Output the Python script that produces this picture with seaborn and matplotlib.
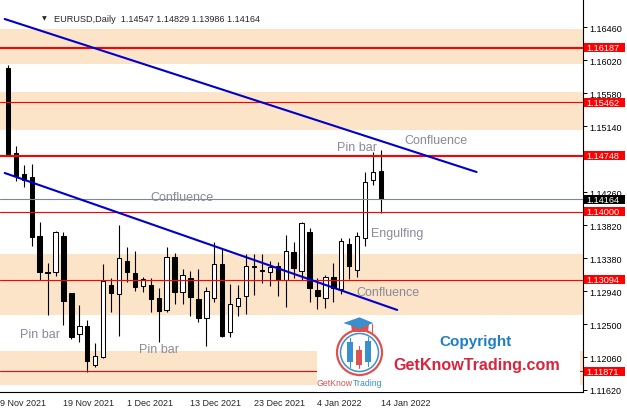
import numpy as np
import pandas as pd
import matplotlib
matplotlib.use('Agg')
import matplotlib.pyplot as plt
import matplotlib.transforms as mtransforms
from matplotlib.patches import Rectangle, Circle, Polygon
import seaborn as sns

# EURUSD daily candles, 10 Nov 2021 .. 14 Jan 2022
opens = [1.15913, 1.14779, 1.14503, 1.14459, 1.13672, 1.13200, 1.13192, 1.13672,
         1.12912, 1.12369, 1.12471, 1.11959, 1.12058, 1.13022, 1.12898, 1.13342,
         1.13182, 1.13005, 1.13022, 1.12849, 1.12689, 1.13392, 1.12925, 1.13112,
         1.12835, 1.12578, 1.12853, 1.13298, 1.12391, 1.12746, 1.12872, 1.13262,
         1.13222, 1.13192, 1.13272, 1.13089, 1.13458, 1.13205, 1.13725, 1.12956,
         1.12845, 1.13125, 1.12969, 1.13565, 1.13226, 1.13645, 1.14423, 1.14547]
highs = [1.15957, 1.14872, 1.14623, 1.14636, 1.13859, 1.13316, 1.13743, 1.13725,
         1.12920, 1.12755, 1.12555, 1.12245, 1.13302, 1.13112, 1.13823, 1.13533,
         1.13472, 1.13125, 1.13112, 1.12978, 1.13533, 1.13449, 1.13236, 1.13213,
         1.13236, 1.12992, 1.13592, 1.13512, 1.13036, 1.13022, 1.13436, 1.13436,
         1.13436, 1.13338, 1.13333, 1.13689, 1.13592, 1.13867, 1.13779, 1.13112,
         1.13156, 1.13312, 1.13649, 1.13649, 1.13733, 1.14534, 1.14792, 1.14829]
lows = [1.14740, 1.14413, 1.14326, 1.13547, 1.13093, 1.12622, 1.13136, 1.12493,
        1.12302, 1.12258, 1.11858, 1.11932, 1.12049, 1.12658, 1.12346, 1.13066,
        1.12946, 1.12925, 1.12658, 1.12266, 1.12658, 1.12769, 1.12769, 1.12613,
        1.12533, 1.12213, 1.12800, 1.12333, 1.12333, 1.12605, 1.12635, 1.12889,
        1.13049, 1.13013, 1.12880, 1.12733, 1.13112, 1.13093, 1.12791, 1.12702,
        1.12711, 1.12791, 1.12902, 1.13102, 1.13125, 1.13539, 1.14356, 1.13986]
closes = [1.14747, 1.14480, 1.14423, 1.13659, 1.13192, 1.13182, 1.13725, 1.12813,
          1.12333, 1.12479, 1.12004, 1.12079, 1.13080, 1.12912, 1.13378, 1.13192,
          1.13000, 1.13102, 1.12835, 1.12679, 1.13400, 1.12925, 1.13160, 1.12858,
          1.12578, 1.12938, 1.13298, 1.12346, 1.12765, 1.12845, 1.13272, 1.13270,
          1.13205, 1.13258, 1.13089, 1.13472, 1.13245, 1.13845, 1.12978, 1.12872,
          1.13125, 1.12978, 1.13605, 1.13272, 1.13680, 1.14400, 1.14534, 1.14164]

date_ticks = [-1, 7, 15, 23, 31, 39, 47]
date_labels = ['9 Nov 2021', '19 Nov 2021', '1 Dec 2021', '13 Dec 2021',
               '23 Dec 2021', '4 Jan 2022', '14 Jan 2022']
price_ticks = [1.1162, 1.1206, 1.1250, 1.1294, 1.1338, 1.1382,
               1.1426, 1.1470, 1.1514, 1.1558, 1.1602, 1.1646]

# zones (low, high) and levels
zones = [(1.15970, 1.16437), (1.15094, 1.15601), (1.12625, 1.13435), (1.11682, 1.12145)]
thick_levels = [1.16187, 1.14748]
thin_levels = [1.15462, 1.14000, 1.13094, 1.11871]
last_price = 1.14164

# trend lines: (bar index, price) end points
upper_trend_x = [-0.41, 59.05]
upper_trend_y = [1.16571, 1.14529]
lower_trend_x = [-0.41, 49.05]
lower_trend_y = [1.14516, 1.12688]

# chart notes: (text, bar index, price)
notes = [('Confluence', 21.96, 1.14195), ('Pin bar', 44.03, 1.14863),
         ('Confluence', 53.9, 1.14960), ('Engulfing', 49.03, 1.13715),
         ('Confluence', 47.9, 1.12928), ('Pin bar', 4.09, 1.12367),
         ('Pin bar', 19.03, 1.12167)]

sns.set_style('white')
plt.rcParams['font.family'] = ['Liberation Sans', 'DejaVu Sans']

W, H = 627, 410
fig = plt.figure(figsize=(W / 100, H / 100), dpi=100)
ax = fig.add_axes([0, 1 - 393.3 / H, 583 / W, 393.3 / H])
ax.set_xlim(-0.41, 72.46)
ax.set_ylim(1.11589, 1.16838)

idx = np.arange(len(opens))
o = np.array(opens); c = np.array(closes)

# zones behind everything
for lo, hi in zones:
    ax.axhspan(lo, hi, color='#FCE4C8', lw=0, zorder=0.5)

# candles
ax.vlines(idx, lows, highs, color='black', lw=0.8, zorder=1)
body_lo = np.minimum(o, c)
body_h = np.maximum(np.abs(c - o), 0.00002)
face = ['white' if cl >= op else 'black' for op, cl in zip(o, c)]
ax.bar(idx, body_h, bottom=body_lo, width=0.55, color=face,
       edgecolor='black', lw=0.75, zorder=2)

# levels
for lv in thick_levels:
    ax.axhline(lv, color='#FF0000', lw=1.5, zorder=3)
for lv in thin_levels:
    ax.axhline(lv, color='#FF0000', lw=0.8, zorder=3)
ax.axhline(last_price, color='#7F8890', lw=0.8, zorder=3)

# trend lines
sns.lineplot(x=upper_trend_x, y=upper_trend_y, ax=ax, color='#0000CD', lw=1.5, zorder=3.2)
sns.lineplot(x=lower_trend_x, y=lower_trend_y, ax=ax, color='#0000CD', lw=1.5, zorder=3.2)

for txt, xi, yp in notes:
    ax.text(xi, yp, txt, color='#8A8A98', fontsize=9, ha='center', va='center', zorder=4)

# axes styling
for s in ['top', 'left']:
    ax.spines[s].set_visible(False)
for s in ['right', 'bottom']:
    ax.spines[s].set_color('black')
    ax.spines[s].set_linewidth(0.8)
ax.yaxis.tick_right()
ax.set_yticks(price_ticks)
# 1.14700 sits under the 1.14748 tag, so its label is hidden
ax.set_yticklabels(['' if abs(p - 1.147) < 1e-6 else f'{p:.5f}' for p in price_ticks])
ax.set_xticks(date_ticks)
ax.set_xticklabels([''] * len(date_ticks))
ax.tick_params(axis='both', direction='out', length=3, width=0.7, colors='black',
               labelsize=6.5, pad=1.5)
ax.set_xlabel('')
ax.set_ylabel('')

# date labels start at their tick, MT4 style (first one runs off the left edge)
xblend = mtransforms.blended_transform_factory(ax.transData, ax.transAxes)
for t, lab in zip(date_ticks, date_labels):
    ax.text(t, -10.5 / 393.3, lab, transform=xblend, fontsize=6.5, ha='left',
            va='center', clip_on=False)

# price tags on the right axis
blend = mtransforms.blended_transform_factory(ax.transAxes, ax.transData)
def price_tag(price, fc):
    half = 4.6 / 7494
    ax.add_patch(Rectangle((584 / 583, price - half), 41 / 583, 2 * half,
                           transform=blend, fc=fc, ec='none', clip_on=False, zorder=6))
    ax.text(586.5 / 583, price, f'{price:.5f}', transform=blend, color='white',
            fontsize=6.6, ha='left', va='center', clip_on=False, zorder=7)

for lv in thick_levels + thin_levels:
    price_tag(lv, '#FF0000')
price_tag(last_price, 'black')

# header
hy = 1 - 19 / 393.3
ax.text(44 / 583, hy, '\u25BC', transform=ax.transAxes, fontsize=4.5,
        ha='center', va='center', family=['DejaVu Sans'])
ax.text(54 / 583, hy,
        f'EURUSD,Daily  {opens[-1]:.5f} {highs[-1]:.5f} {lows[-1]:.5f} {closes[-1]:.5f}',
        transform=ax.transAxes, fontsize=6.6, ha='left', va='center')

# watermark area
ax.add_patch(Rectangle((317 / 583, 0), 263 / 583, (393.3 - 316) / 393.3,
                       transform=ax.transAxes, fc='white', ec='none', zorder=3.5))
fig.text(476 / W, 1 - 341.7 / H, 'Copyright', color='#1F7FC4', fontsize=11,
         fontweight='bold', ha='center', va='center', zorder=10)
fig.text(476.5 / W, 1 - 365.5 / H, 'GetKnowTrading.com', color='#D7263D', fontsize=11.6,
         fontweight='bold', ha='center', va='center', zorder=10)
fig.text(352.5 / W, 1 - 384 / H, 'GetKnow', color='#D9534F', fontsize=6.3,
         ha='right', va='center', zorder=10)
fig.text(352.5 / W, 1 - 384 / H, 'Trading', color='#3A8FD0', fontsize=6.3,
         ha='left', va='center', zorder=10)

# logo
lax = fig.add_axes([330 / W, (H - 382) / H, 62 / W, 66 / H], zorder=10)
lax.set_xlim(330, 392)
lax.set_ylim(382, 316)
lax.axis('off')
lax.add_patch(Circle((359.5, 353.5), 22.5, fill=False, ec='#D9534F', lw=1.6))
lax.add_patch(Circle((359.5, 353.5), 19, fill=False, ec='#3A8FD0', lw=1.1))
for (x0, x1, b0, b1, w0, w1, col) in [(347.3, 353.3, 343.3, 363.3, 339, 368, '#3A8FD0'),
                                      (356.0, 361.7, 351.0, 366.0, 346.7, 369, '#D9534F'),
                                      (365.0, 370.7, 342.3, 363.3, 338.3, 367.3, '#3A8FD0')]:
    lax.plot([(x0 + x1) / 2] * 2, [w0, w1], color=col, lw=0.8)
    lax.add_patch(Rectangle((x0, b0), x1 - x0, b1 - b0, fc=col, ec='none'))
lax.add_patch(Polygon([(351, 325), (369, 325), (368, 333), (352, 333)], fc='#D9534F', ec='none'))
lax.add_patch(Polygon([(343.3, 324), (359.5, 318.3), (373.3, 324), (359.5, 329.5)],
                      fc='#3A8FD0', ec='none'))
lax.plot([371.7, 371.7], [325, 334], color='#D9534F', lw=0.8)

fig.savefig('out.png', dpi=100)
